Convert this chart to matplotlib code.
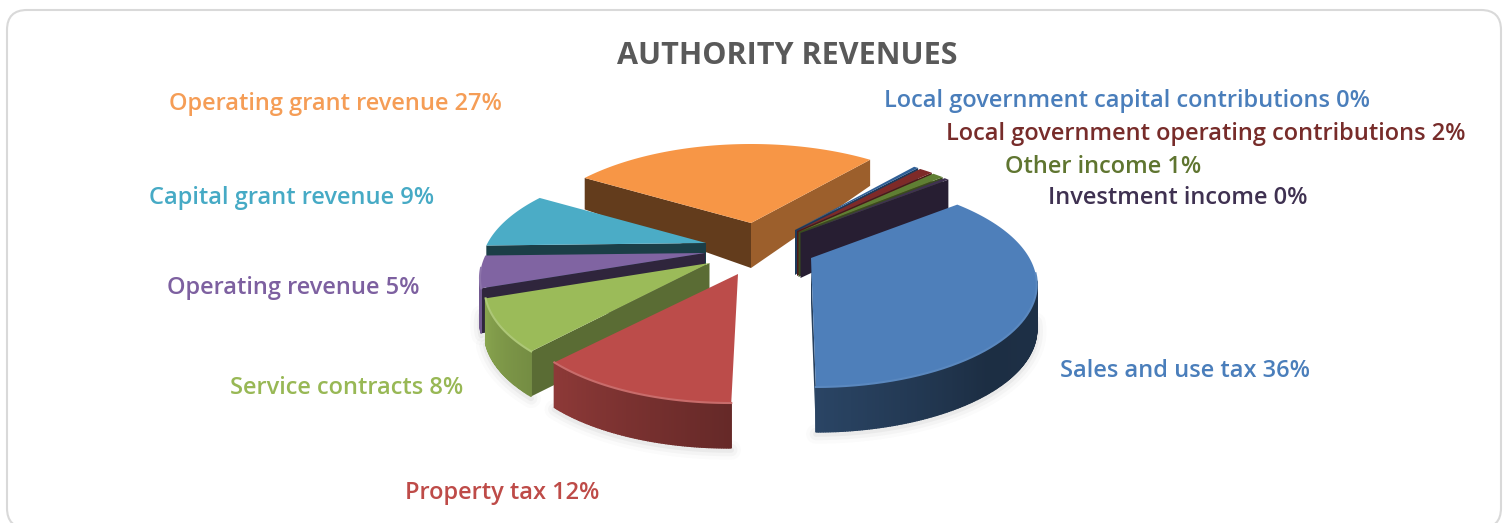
import numpy as np
import matplotlib
matplotlib.use('Agg')
import matplotlib.pyplot as plt
from matplotlib.patches import FancyBboxPatch, Polygon

plt.rcParams['font.family'] = ['Open Sans', 'DejaVu Sans']

labels = ['Local government capital contributions', 'Local government operating contributions',
          'Other income', 'Investment income', 'Sales and use tax', 'Property tax',
          'Service contracts', 'Operating revenue', 'Capital grant revenue', 'Operating grant revenue']
shown = ['0%', '2%', '1%', '0%', '36%', '12%', '8%', '5%', '9%', '27%']
values = [0.4, 1.2, 1.0, 0.4, 36, 12, 8, 5, 9, 27]

colors = ['#2f5f96', '#7e2a28', '#5f7f33', '#3f3151', '#4e7fba', '#bc4c4a',
          '#9bbb59', '#8064a2', '#4bacc6', '#f79646']
text_colors = ['#4a7ebb', '#772c2a', '#5f7530', '#3f3151', '#4a7ebb', '#be4b48',
               '#98b855', '#7d60a0', '#46aac5', '#f59d56']
label_x = [884, 946, 1005, 1048, 1060, 405, 230, 167, 149, 169]
label_y = [101, 134, 167, 198, 371, 493, 388, 288, 198, 104]
# exploded apex of each slice, in image pixels
apex_x = [795, 797, 798.5, 800.5, 811, 738, 709.5, 705, 706, 751]
apex_y = [230, 231, 232, 233, 258, 274, 263, 253, 243, 223]
lean = [0, 0, 0, 0, 0.03, -0.06, 0, 0, 0, 0]
wall_a0 = [0.4, 0.5, 0.5, 0.6, 0.4, 0.5, 0.58, 0.37, 0.36, 0.4]
wall_a1 = [0.6, 0.6, 0.6, 0.62, 0.5, 0.6, 0.5, 0.5, 0.5, 0.63]
bevel = [0, 0, 0, 0, 0.07, 0.18, 0.18, 0.1, 0.05, 0]

start = 39.4
rx, ry = 225, 104
drop = 25      # ellipse centre sits below the apex
persp = 0.8    # far side of the pie is squeezed
depth = 45

fig = plt.figure(figsize=(15.09, 5.23), dpi=100)
ax = fig.add_axes([0, 0, 1, 1])
ax.set_xlim(0, 1509)
ax.set_ylim(523, 0)
ax.axis('off')
ax.add_patch(FancyBboxPatch((7, 10), 1494, 518, boxstyle='round,pad=0,rounding_size=20',
                            fc='white', ec='#d9d9d9', lw=1.5))
ax.text(787.5, 56.5, 'AUTHORITY REVENUES', ha='center', va='center', fontsize=22,
        fontweight='bold', color='#595959')


def shade(color, f):
    return tuple(np.array(matplotlib.colors.to_rgb(color)) * f)


def lighten(color, f):
    c = np.array(matplotlib.colors.to_rgb(color))
    return tuple(c + (1 - c) * f)


def apparent(a):
    h = np.radians(a) / 2
    return np.degrees(2 * np.arctan2(persp * np.sin(h), np.cos(h))) % 360


def point(a, i):
    t = np.radians(apparent(a))
    dy = drop - ry * np.cos(t)
    return apex_x[i] + rx * np.sin(t) + lean[i] * dy, apex_y[i] + dy


def drop_of(a, i):
    # walls get shorter toward the back
    y = point(a, i)[1] - apex_y[i]
    return depth + 0.3 * np.minimum(y, 0)


edges = start + np.concatenate([[0], np.cumsum(values)]) * 3.6
# far slices first so that near ones cover them
order = sorted(range(len(values)), key=lambda i: np.cos(np.radians((edges[i] + edges[i + 1]) / 2)), reverse=True)

# faint shadow under the pie
for lw, al in [(14, 0.025), (9, 0.04), (4, 0.06)]:
    for i in order:
        aa = np.linspace(edges[i], edges[i + 1], 60)
        aa = aa[np.cos(np.radians(apparent(aa))) < 0.1]
        if len(aa) == 0:
            continue
        xs, ys = point(aa, i)
        ax.plot(xs, ys + depth + 2, color='#555555', lw=lw, alpha=al, solid_capstyle='round', zorder=5)

for z, i in enumerate(order):
    a0, a1 = edges[i], edges[i + 1]
    c = colors[i]
    base = 10 + z * 2
    # cut walls, only those that face the viewer
    for a, f, side in ((a0, wall_a0[i], -1), (a1, wall_a1[i], 1)):
        if side * np.sin(np.radians(apparent(a))) <= 0:
            continue
        x, y = point(a, i)
        ax.add_patch(Polygon([(apex_x[i], apex_y[i]), (x, y), (x, y + drop_of(a, i)),
                              (apex_x[i], apex_y[i] + depth)],
                             fc=shade(c, f), ec='none', zorder=base))
    # outer rim, shaded along the arc
    steps = max(2, int(a1 - a0) * 2)
    aa = np.linspace(a0, a1, steps + 1)
    xs, ys = point(aa, i)
    ds = drop_of(aa, i)
    for k in range(steps):
        t = apparent((aa[k] + aa[k + 1]) / 2)
        if np.cos(np.radians(t)) > 0.02:
            continue
        f = np.interp(t, [60, 130, 180, 232, 265], [0.4, 0.36, 0.54, 0.75, 0.88])
        ax.add_patch(Polygon([(xs[k], ys[k]), (xs[k + 1], ys[k + 1]),
                              (xs[k + 1], ys[k + 1] + ds[k + 1]), (xs[k], ys[k] + ds[k])],
                             fc=shade(c, f), ec=shade(c, f), lw=1.0, zorder=base + 1))
    # top face
    ax.add_patch(Polygon(np.column_stack([np.r_[apex_x[i], xs], np.r_[apex_y[i], ys]]),
                         fc=c, ec='none', zorder=base + 1.5))
    # bevel highlight on the front edge
    if bevel[i] > 0:
        front = np.cos(np.radians(apparent(aa))) < 0.1
        ax.plot(xs[front], ys[front], color=lighten(c, bevel[i]), lw=1.5, zorder=base + 1.6)

for i in range(len(labels)):
    ax.text(label_x[i], label_y[i], labels[i] + ' ' + shown[i], ha='left', va='center',
            fontsize=17, fontweight='semibold', color=text_colors[i], zorder=100)

fig.savefig('out.png', dpi=100)
